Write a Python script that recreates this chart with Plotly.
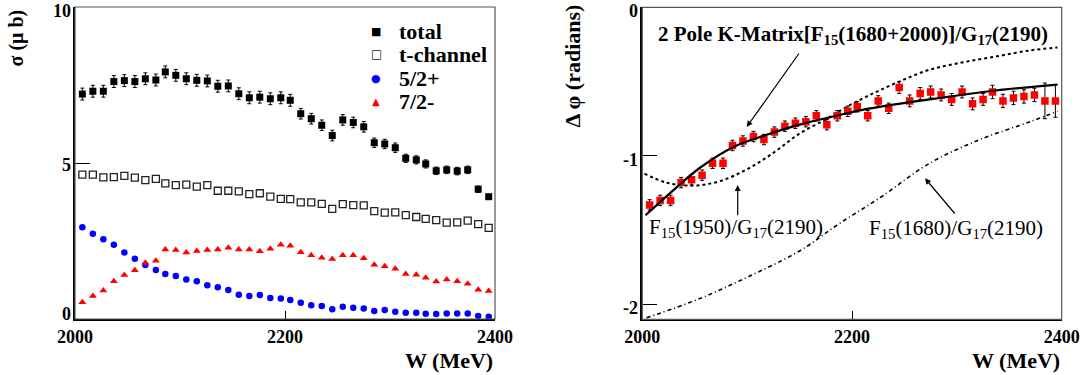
import plotly.graph_objects as go

# ---------------- data ----------------
W = [2007, 2017, 2027, 2037, 2047, 2057, 2067, 2077, 2086, 2096,
     2106, 2116, 2126, 2136, 2146, 2156, 2166, 2176, 2186, 2196,
     2205, 2215, 2225, 2235, 2245, 2255, 2265, 2275, 2285, 2295,
     2305, 2315, 2325, 2334, 2344, 2354, 2364, 2374, 2384, 2394]

total = [7.21, 7.30, 7.30, 7.61, 7.64, 7.61, 7.70, 7.66, 7.92, 7.81,
         7.70, 7.65, 7.63, 7.46, 7.47, 7.22, 7.09, 7.11, 7.06, 7.09,
         7.01, 6.58, 6.42, 6.21, 5.88, 6.38, 6.30, 6.16, 5.65, 5.61,
         5.49, 5.15, 5.10, 4.97, 4.75, 4.78, 4.74, 4.78, 4.16, 3.92]
total_err = [0.19, 0.19, 0.19, 0.19, 0.19, 0.19, 0.19, 0.19, 0.19, 0.19,
             0.19, 0.19, 0.19, 0.19, 0.19, 0.19, 0.19, 0.19, 0.19, 0.19,
             0.19, 0.17, 0.17, 0.17, 0.17, 0.17, 0.17, 0.17, 0.15, 0.15,
             0.15, 0.13, 0.13, 0.13, 0.12, 0.12, 0.12, 0.12, 0.10, 0.05]

tchannel = [4.63, 4.63, 4.54, 4.55, 4.59, 4.53, 4.45, 4.49, 4.35, 4.29,
            4.31, 4.24, 4.29, 4.11, 4.11, 4.09, 4.00, 4.03, 3.92, 3.85,
            3.84, 3.74, 3.74, 3.69, 3.53, 3.68, 3.65, 3.64, 3.46, 3.41,
            3.42, 3.33, 3.27, 3.21, 3.17, 3.09, 3.10, 3.15, 3.04, 2.92]

w52plus = [2.94, 2.73, 2.56, 2.38, 2.13, 1.93, 1.73, 1.57, 1.44, 1.38,
           1.27, 1.21, 1.08, 1.02, 0.93, 0.78, 0.74, 0.77, 0.67, 0.66,
           0.61, 0.52, 0.44, 0.42, 0.31, 0.39, 0.36, 0.34, 0.26, 0.29,
           0.23, 0.20, 0.20, 0.17, 0.16, 0.18, 0.18, 0.18, 0.10, 0.07]

w72minus = [0.54, 0.74, 0.91, 1.21, 1.41, 1.56, 1.80, 1.87, 2.23, 2.21,
            2.13, 2.18, 2.21, 2.23, 2.28, 2.23, 2.23, 2.17, 2.25, 2.38,
            2.35, 2.14, 2.04, 1.96, 1.92, 2.04, 2.04, 1.95, 1.74, 1.69,
            1.61, 1.44, 1.42, 1.32, 1.20, 1.27, 1.21, 1.13, 0.94, 0.90]

dphi = [-1.33, -1.30, -1.30, -1.18, -1.16, -1.13, -1.05, -1.05, -0.93, -0.90,
        -0.87, -0.89, -0.84, -0.80, -0.78, -0.77, -0.73, -0.79, -0.73, -0.70,
        -0.67, -0.73, -0.63, -0.68, -0.54, -0.63, -0.58, -0.57, -0.59, -0.62,
        -0.57, -0.65, -0.62, -0.57, -0.63, -0.61, -0.60, -0.59, -0.63, -0.63]
dphi_err = [0.035, 0.035, 0.035, 0.035, 0.035, 0.035, 0.035, 0.035, 0.035, 0.035,
            0.035, 0.035, 0.035, 0.035, 0.035, 0.035, 0.035, 0.035, 0.035, 0.035,
            0.035, 0.035, 0.035, 0.035, 0.04, 0.04, 0.04, 0.04, 0.04, 0.04,
            0.04, 0.04, 0.04, 0.045, 0.045, 0.045, 0.045, 0.045, 0.12, 0.11]

kmat_W = [2003, 2033, 2055, 2087, 2118, 2150, 2185, 2210, 2274, 2337, 2396]
kmat_v = [-1.40, -1.21, -1.08, -0.94, -0.86, -0.79, -0.73, -0.69, -0.62, -0.56, -0.52]

f1950_W = [2002, 2023, 2049, 2074, 2100, 2125, 2150, 2176, 2195, 2220, 2245,
           2274, 2306, 2338, 2370, 2396]
f1950_v = [-1.12, -1.18, -1.20, -1.17, -1.09, -0.98, -0.85, -0.75, -0.67, -0.58, -0.50,
           -0.42, -0.37, -0.33, -0.29, -0.27]

f1680_W = [2004, 2055, 2102, 2150, 2187, 2227, 2274, 2322, 2370, 2396]
f1680_v = [-2.09, -1.96, -1.81, -1.64, -1.46, -1.28, -1.05, -0.89, -0.77, -0.70]

legend_labels = ["total", "t-channel", "5/2+", "7/2-"]
x_ticks = [2000, 2200, 2400]
y1_ticks = [0, 5, 10]
y1_ticktext = ["0", "5", "10"]
y2_ticks = [0, -1, -2]
y2_ticktext = ["0", "-1", "-2"]

# ---------------- figure ----------------
FW, FH = 1081, 375
SERIF = "Liberation Serif"


def px(x):
    return x / FW


def py(y):
    return 1 - y / FH


fig = go.Figure()

# left panel
fig.add_trace(go.Scatter(x=W, y=total, mode="markers", xaxis="x", yaxis="y",
                         marker=dict(symbol="square", size=7, color="black"),
                         error_y=dict(type="data", array=total_err, color="black",
                                      thickness=1, width=2),
                         name=legend_labels[0], showlegend=False))
fig.add_trace(go.Scatter(x=W, y=tchannel, mode="markers", xaxis="x", yaxis="y",
                         marker=dict(symbol="square-open", size=7, color="#222",
                                     line=dict(width=1.3)),
                         name=legend_labels[1], showlegend=False))
fig.add_trace(go.Scatter(x=W, y=w52plus, mode="markers", xaxis="x", yaxis="y",
                         marker=dict(symbol="circle", size=6.5, color="#0000ff"),
                         name=legend_labels[2], showlegend=False))
fig.add_trace(go.Scatter(x=W, y=w72minus, mode="markers", xaxis="x", yaxis="y",
                         marker=dict(symbol="triangle-up", size=7, color="#ff0000"),
                         name=legend_labels[3], showlegend=False))

# right panel
fig.add_trace(go.Scatter(x=f1950_W, y=f1950_v, mode="lines", xaxis="x2", yaxis="y2",
                         line=dict(color="black", width=2, dash="dot", shape="spline"),
                         showlegend=False))
fig.add_trace(go.Scatter(x=f1680_W, y=f1680_v, mode="lines", xaxis="x2", yaxis="y2",
                         line=dict(color="black", width=1.6, dash="4px,3px,1px,3px",
                                   shape="spline"),
                         showlegend=False))
fig.add_trace(go.Scatter(x=W, y=dphi, mode="markers", xaxis="x2", yaxis="y2",
                         marker=dict(symbol="square", size=7.5, color="#ff0000"),
                         error_y=dict(type="data", array=dphi_err, color="black",
                                      thickness=1, width=2),
                         showlegend=False))
fig.add_trace(go.Scatter(x=kmat_W, y=kmat_v, mode="lines", xaxis="x2", yaxis="y2",
                         line=dict(color="black", width=2.2, shape="spline"),
                         showlegend=False))

tickfont = dict(family=SERIF, size=18, color="black", weight="bold")
common_axis = dict(showgrid=False, zeroline=False, showline=True, linecolor="black",
                   linewidth=2, ticks="inside", tickcolor="black", tickwidth=1,
                   tickfont=tickfont, mirror=False, automargin=False)

fig.update_layout(
    width=FW, height=FH,
    margin=dict(l=0, r=0, t=0, b=0, autoexpand=False),
    paper_bgcolor="white", plot_bgcolor="white",
    showlegend=False,
    xaxis=dict(domain=[px(75), px(495)], range=[2000, 2400], anchor="y",
               tickvals=x_ticks, ticklen=8, ticklabelstandoff=0, **common_axis),
    yaxis=dict(domain=[py(319), py(7)], range=[0, 10], anchor="x",
               tickvals=y1_ticks, ticklen=15, showticklabels=False, **common_axis),
    xaxis2=dict(domain=[px(642.3), px(1061.7)], range=[2000, 2400], anchor="y2",
                tickvals=x_ticks, ticklen=8, ticklabelstandoff=0, **common_axis),
    yaxis2=dict(domain=[py(319.3), py(7.3)], range=[-2.1, 0], anchor="x2",
                tickvals=y2_ticks, ticklen=15, showticklabels=False, **common_axis),
)

# thin frame boxes (top/right borders)
for xr, yr in (("x domain", "y domain"), ("x2 domain", "y2 domain")):
    fig.add_shape(type="rect", xref=xr, yref=yr, x0=0, x1=1, y0=0, y1=1,
                  line=dict(color="#555", width=1.2), layer="above")

ann = []
bold = dict(family=SERIF, color="black", weight="bold")
reg = dict(family=SERIF, color="black")

# y tick labels (placed like the reference, nudged inside at the extremes)
for val, txt, ypix in zip(y1_ticks, y1_ticktext, [314, 165, 11]):
    ann.append(dict(text=txt, x=px(73), y=py(ypix), xref="paper", yref="paper",
                    xanchor="right", yanchor="middle", showarrow=False,
                    font=dict(size=18, **bold)))
for val, txt, ypix in zip(y2_ticks, y2_ticktext, [11, 160, 308]):
    ann.append(dict(text=txt, x=px(640), y=py(ypix), xref="paper", yref="paper",
                    xanchor="right", yanchor="middle", showarrow=False,
                    font=dict(size=18, **bold)))

# axis titles
ann.append(dict(text="W (MeV)", x=px(495), y=0, xref="paper", yref="paper",
                xanchor="right", yanchor="bottom", showarrow=False,
                font=dict(size=22, **bold)))
ann.append(dict(text="W (MeV)", x=px(1062), y=0, xref="paper", yref="paper",
                xanchor="right", yanchor="bottom", showarrow=False,
                font=dict(size=22, **bold)))
ann.append(dict(text="σ (μ b)", x=px(16), y=py(8), xref="paper", yref="paper",
                xanchor="center", yanchor="top", textangle=-90, showarrow=False,
                font=dict(size=20, **bold)))
ann.append(dict(text="Δ φ (radians)", x=px(572), y=py(3), xref="paper", yref="paper",
                xanchor="center", yanchor="top", textangle=-90, showarrow=False,
                font=dict(size=22, **bold)))

# legend (symbols + labels)
leg_sym = ["■", "□", "●", "▲"]
leg_col = ["black", "#222", "#0000ff", "#ff0000"]
leg_sz = [11, 12, 11, 10]
leg_y = [31.7, 54.3, 78.3, 101.7]
for s, c, sz, yy, lab in zip(leg_sym, leg_col, leg_sz, leg_y, legend_labels):
    ann.append(dict(text=s, x=px(376), y=py(yy), xref="paper", yref="paper",
                    xanchor="center", yanchor="middle", showarrow=False,
                    font=dict(family="DejaVu Sans", size=sz, color=c)))
    ann.append(dict(text=lab, x=px(397), y=py(yy), xref="paper", yref="paper",
                    xanchor="left", yanchor="middle", showarrow=False,
                    font=dict(size=22, **bold)))

# right panel labels
ann.append(dict(text="2 Pole K-Matrix[F<sub>15</sub>(1680+2000)]/G<sub>17</sub>(2190)",
                x=px(656), y=py(35), xref="paper", yref="paper",
                xanchor="left", yanchor="middle", showarrow=False,
                font=dict(size=21, **bold)))
ann.append(dict(text="F<sub>15</sub>(1950)/G<sub>17</sub>(2190)",
                x=px(647), y=py(228), xref="paper", yref="paper",
                xanchor="left", yanchor="middle", showarrow=False,
                font=dict(size=21, **reg)))
ann.append(dict(text="F<sub>15</sub>(1680)/G<sub>17</sub>(2190)",
                x=px(867), y=py(229), xref="paper", yref="paper",
                xanchor="left", yanchor="middle", showarrow=False,
                font=dict(size=21, **reg)))

# arrows
for (hx, hy), (tx, ty) in (((746.7, 127), (800, 52)),
                           ((737.7, 185), (737.7, 216.7)),
                           ((925, 178.3), (956, 215))):
    ann.append(dict(text="", x=px(hx), y=py(hy), xref="paper", yref="paper",
                    ax=tx - hx, ay=ty - hy, showarrow=True, arrowhead=2,
                    arrowsize=1, arrowwidth=1.2, arrowcolor="black"))

fig.update_layout(annotations=ann)

fig.write_html("out.html")
